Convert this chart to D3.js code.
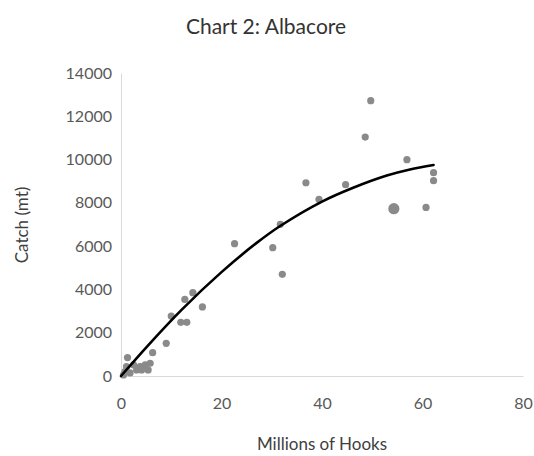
<meta charset="utf-8">
<script src="https://cdn.jsdelivr.net/npm/d3@7"></script>

<style>
  body {
    margin: 0;
    background-color: #ffffff;
  }
  .lbl {
    font-family: Lato, "Open Sans", sans-serif;
    fill: #595959;
  }
</style>

<div id="chart"></div>

<script>
// millions of hooks vs catch (mt)
var hooks = [49.7, 48.6, 56.9, 62.2, 62.2, 36.8, 44.7, 39.4, 60.7, 31.7, 22.6, 30.2, 32.1,
             14.3, 12.7, 16.2, 10.0, 11.9, 13.1, 9.0, 6.3, 1.3, 2.5, 3.8, 4.8, 5.8, 5.4,
             4.1, 3.1, 1.1, 0.8, 1.8, 0.5]
var catchMt = [12720, 11040, 9995, 9395, 9025, 8930, 8840, 8160, 7790, 7010, 6115, 5930, 4700,
               3850, 3540, 3190, 2770, 2480, 2480, 1510, 1080, 850, 510, 430, 510, 590, 280,
               280, 280, 430, 200, 140, 50]

// the one larger marker
var bigHooks = [54.3]
var bigCatch = [7730]

// polynomial trendline, points
var trendX = [0, 5.4, 12.1, 20, 27, 31.6, 40, 46.2, 52.9, 57.5, 62.2]
var trendY = [0, 1420, 3070, 4800, 6150, 6920, 8060, 8700, 9265, 9545, 9750]

var xTicks = [0, 20, 40, 60, 80]
var yTicks = [0, 2000, 4000, 6000, 8000, 10000, 12000, 14000]

var W = 534, H = 456
var margin = {left: 121, right: 11, top: 73, bottom: 80}

var svg = d3.select("#chart")
  .append("svg")
    .attr("width", W)
    .attr("height", H)

var x = d3.scaleLinear().domain([0, 80]).range([margin.left, W - margin.right])
var y = d3.scaleLinear().domain([0, 14000]).range([H - margin.bottom, margin.top])

// axes (Excel style: light line, no ticks)
svg.append("g")
  .attr("transform", "translate(0," + y(0) + ")")
  .call(d3.axisBottom(x).tickValues(xTicks).tickFormat(d3.format("d")).tickSize(0).tickPadding(22))
  .call(g => g.select(".domain").attr("stroke", "#d9d9d9"))
  .selectAll("text")
    .attr("class", "lbl")
    .attr("font-size", 16)

svg.append("g")
  .attr("transform", "translate(" + x(0) + ",0)")
  .call(d3.axisLeft(y).tickValues(yTicks).tickFormat(d3.format("d")).tickSize(0).tickPadding(9))
  .call(g => g.select(".domain").attr("stroke", "#d9d9d9"))
  .selectAll("text")
    .attr("class", "lbl")
    .attr("font-size", 16)

svg.selectAll("text").attr("fill", null)

// points
var pts = hooks.map((h, i) => ({h: h, c: catchMt[i]}))
svg.selectAll(".dot")
  .data(pts)
  .enter()
  .append("circle")
    .attr("cx", d => x(d.h))
    .attr("cy", d => y(d.c))
    .attr("r", 3.6)
    .attr("fill", "#8a8a8a")

svg.selectAll(".big")
  .data(bigHooks.map((h, i) => ({h: h, c: bigCatch[i]})))
  .enter()
  .append("circle")
    .attr("cx", d => x(d.h))
    .attr("cy", d => y(d.c))
    .attr("r", 5.6)
    .attr("fill", "#8a8a8a")

// trendline
var trend = trendX.map((t, i) => [t, trendY[i]])
svg.append("path")
  .datum(trend)
  .attr("fill", "none")
  .attr("stroke", "#000")
  .attr("stroke-width", 2.6)
  .attr("stroke-linecap", "round")
  .attr("d", d3.line().x(d => x(d[0])).y(d => y(d[1])).curve(d3.curveCatmullRom))

// titles
svg.append("text")
  .attr("class", "lbl")
  .attr("x", 266)
  .attr("y", 34)
  .attr("text-anchor", "middle")
  .attr("font-size", 21)
  .style("fill", "#333333")
  .text("Chart 2: Albacore")

svg.append("text")
  .attr("class", "lbl")
  .attr("x", 322)
  .attr("y", 450)
  .attr("text-anchor", "middle")
  .attr("font-size", 17)
  .style("fill", "#404040")
  .text("Millions of Hooks")

svg.append("text")
  .attr("class", "lbl")
  .attr("transform", "translate(28,225) rotate(-90)")
  .attr("text-anchor", "middle")
  .attr("font-size", 17)
  .style("fill", "#404040")
  .text("Catch (mt)")
</script>
